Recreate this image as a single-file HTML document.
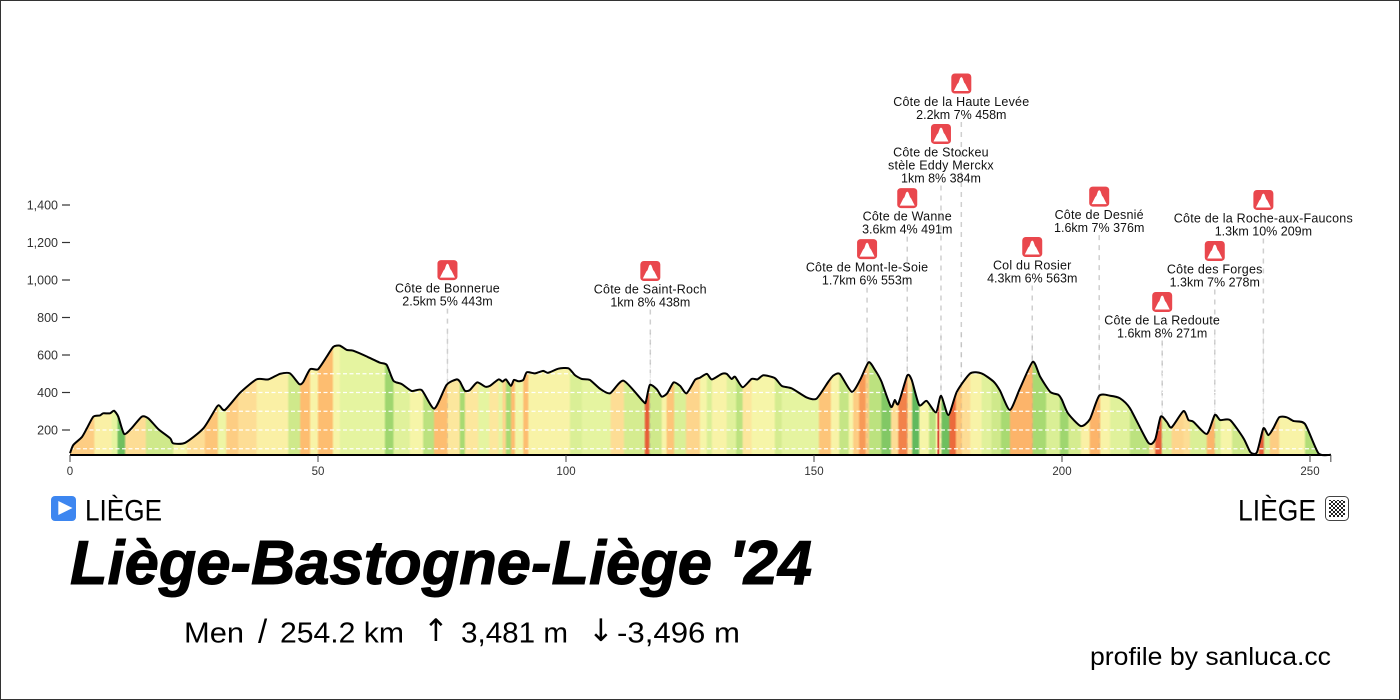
<!DOCTYPE html>
<html lang="fr">
<head>
<meta charset="utf-8">
<title>Liège-Bastogne-Liège '24 profile</title>
<style>
html,body{margin:0;padding:0;background:#fff;}
svg{display:block;}
text{font-family:"Liberation Sans","DejaVu Sans",sans-serif;fill:#000;}
.tick{font-size:12.5px;fill:#333;}
.climb{font-size:12.5px;letter-spacing:.22px;fill:#111;}
.climb-stat{letter-spacing:0;}
</style>
</head>
<body>
<svg id="chart" xmlns="http://www.w3.org/2000/svg" width="1400" height="700" viewBox="0 0 1400 700">
  <defs>
    <linearGradient id="gradeFill" gradientUnits="userSpaceOnUse" x1="70" x2="1330.8" y1="0" y2="0"></linearGradient>
    <pattern id="checks" patternUnits="userSpaceOnUse" x="1329" y="499" width="4" height="4">
      <rect width="2" height="2" fill="#222"/><rect x="2" y="2" width="2" height="2" fill="#222"/>
    </pattern>
  </defs>
  <rect x=".5" y=".5" width="1399" height="699" fill="#fff" stroke="#333" stroke-width="1"/>
  <g id="leaders"></g>
  <path id="area" fill="url(#gradeFill)"></path>
  <g id="grid"></g>
  <g id="innerLeaders"></g>
  <path id="line" fill="none" stroke="#000" stroke-width="2" stroke-linejoin="round"></path>
  <g id="axes"></g>
  <g id="climbs"></g>

  <g>
    <rect x="51" y="496" width="25" height="25" rx="4" fill="#3d86f0"/>
    <polygon points="58.3,501 58.3,515 72.5,508" fill="#fff"/>
    <text x="85" y="520.5" font-size="30" textLength="77" lengthAdjust="spacingAndGlyphs">LIÈGE</text>
  </g>
  <g>
    <text x="1238" y="520.5" font-size="30" textLength="78" lengthAdjust="spacingAndGlyphs">LIÈGE</text>
    <rect x="1325.5" y="496.5" width="23" height="24" rx="4" fill="#fff" stroke="#444" stroke-width="1"/>
    <rect x="1329" y="500" width="16" height="17" fill="url(#checks)"/>
  </g>
  <text x="70" y="584" font-size="62" font-weight="700" font-style="italic" stroke="#000" stroke-width="1" textLength="742" lengthAdjust="spacingAndGlyphs">Liège-Bastogne-Liège '24</text>
  <g font-size="29">
    <text x="184" y="642.5" textLength="60" lengthAdjust="spacingAndGlyphs">Men</text>
    <text x="258" y="642.5" font-size="33">/</text>
    <text x="280" y="642.5" textLength="124" lengthAdjust="spacingAndGlyphs">254.2 km</text>
    <text x="423" y="641" font-size="31" style="font-family:'DejaVu Sans',sans-serif">↑</text>
    <text x="461" y="642.5" textLength="107" lengthAdjust="spacingAndGlyphs">3,481 m</text>
    <text x="588" y="641" font-size="31" style="font-family:'DejaVu Sans',sans-serif">↓</text>
    <text x="617" y="642.5" textLength="123" lengthAdjust="spacingAndGlyphs">-3,496 m</text>
  </g>
  <text x="1090" y="665" font-size="25" textLength="241" lengthAdjust="spacingAndGlyphs">profile by sanluca.cc</text>
</svg>
<script>
var distanceKm = [0,0.67,2.35,3.4,4.7,6.05,6.7,8.06,8.87,9.74,10.9,12.4,14.45,15.8,17.8,20.2,20.8,23.2,26.9,29.6,30.2,31.25,34.3,37.6,40,42.3,44.35,46.2,47,48.4,50,51.75,53.1,54.4,55.8,57.1,60,62.5,63.85,65.2,66.9,68.9,70.9,73.45,75.9,77.95,78.6,79.6,80.6,82.1,83.7,84.7,86.4,87.2,87.9,88.9,89.5,90.4,91.4,92.1,93.75,95.4,96.4,98.45,100.5,101.8,103.2,104.8,106.9,108.9,111.6,115.6,116.1,116.9,118.3,119.3,120.4,121.7,123,124.3,126,127,128.4,129.4,131.4,132.4,133.4,134.1,135.6,137.4,138.6,139.8,142.1,143.5,145.5,148.5,150.5,152.9,153.9,155.2,157.6,159.3,161,162.3,163.6,165.5,166.3,167,168.8,169.7,171.2,172.7,174.6,175.6,177.1,178.8,181.5,183.8,186.2,187.5,189.5,191.5,194.1,195.6,197.6,199.3,200,201.2,203.8,205.6,207.5,209.7,211.7,213.7,217.4,218.8,219.9,221.1,222.1,224.5,225.5,226.5,229.2,230.8,231.9,233.9,236.6,238,239.3,240.6,241.6,242.6,243.8,245.3,246.7,249,251.7,254.2];
var elevationM = [76,120,161,209,271,278,289,289,303,271,179,209,271,262,205,156,129,132,209,324,328,307,399,470,470,499,502,445,455,524,524,591,644,650,627,623,590,559,547,463,445,408,413,314,440,470,458,410,413,454,431,436,470,458,470,435,467,460,467,508,502,515,505,527,529,493,472,467,419,396,463,351,351,440,417,378,396,454,435,396,467,479,499,470,499,499,472,484,428,472,470,492,477,435,422,374,367,458,490,499,404,467,561,520,458,324,360,339,490,467,333,355,294,383,280,404,502,502,458,410,307,420,564,484,404,387,360,289,221,257,383,383,369,316,132,150,271,244,214,301,253,244,179,280,253,253,156,81,81,209,173,209,268,268,248,232,76,68];

var segmentEndKm = [4.9,8.4,9.6,11.1,15.3,20.8,23.6,27.2,29.8,31.5,33.9,37.6,44,46.4,48.4,50,53,54.4,63.5,65.2,68.5,71.2,73.4,76.1,78.6,79.6,82.3,84.5,86.4,87.2,87.9,88.9,89.7,91.4,92.4,100.8,103.2,109,111.7,115.9,116.8,119.3,120.3,121.8,124.2,127,128.4,129.4,132.4,134.3,135.6,137.4,142.1,143.5,151,153.4,155.1,157,157.9,159.1,160.4,161.1,163.6,165.5,167,168.8,169.8,171.2,173.2,174.6,174.9,175.2,175.7,177.3,178.6,179.8,181.5,183.8,185.8,187.7,189.5,191.5,194.1,196.8,199.6,201.3,203.8,205.6,207.7,209.7,213.7,217.6,218.8,220.1,222.1,224.5,225.8,229.2,230.8,232,234.3,237.9,239.7,240.7,241.9,243.8,249,254.2];
var segmentGrade = [4,2,-1,-8,3,-3,1,3,4.5,0,4,3,2,-3,5,1.5,5,1,-1,-5.5,-1.5,1,-4,5,2.5,-5,2.5,-1,2.5,-1,3.5,-5,5,0.5,5,1.5,-2,-1,3,-2.5,11,-3,1.5,4.5,-2,3.5,1,-2,1.5,-1.5,-4,2.5,1,-2.5,-1,4.5,1.5,-3.5,1,4,7,4,-4,-7,3,8.5,3,-9,1,-4,1,15,2,-8,10,4.5,3,1.5,-1.5,-3,-5,5.5,5.5,-5,-2,-5.5,-2.5,2,5.5,1.5,-1.5,-4,3,11,-2,3.5,3,-2,5.5,-2,1,-3,1,11,-2,4,1.5,-4.5];

var xTickValues = [0,50,100,150,200,250];
var yTickValues = [200,400,600,800,1000,1200,1400];
var gridValues = [100,200,300,400,500];

var climbNames = [["Côte de Bonnerue"],["Côte de Saint-Roch"],["Côte de Mont-le-Soie"],["Côte de Wanne"],["Côte de Stockeu","stèle Eddy Merckx"],["Côte de la Haute Levée"],["Col du Rosier"],["Côte de Desnié"],["Côte de La Redoute"],["Côte des Forges"],["Côte de la Roche-aux-Faucons"]];
var climbStats = ["2.5km 5% 443m","1km 8% 438m","1.7km 6% 553m","3.6km 4% 491m","1km 8% 384m","2.2km 7% 458m","4.3km 6% 563m","1.6km 7% 376m","1.6km 8% 271m","1.3km 7% 278m","1.3km 10% 209m"];
var climbKm = [76.1,117,160.7,168.8,175.6,179.7,194,207.5,220.2,230.8,240.6];
var climbLabelElevation = [1053,1048,1165,1437,1779,2048,1176,1445,883,1155,1427];

var NS = "http://www.w3.org/2000/svg";
var raceLengthKm = 254.2;
function x(km){ return 70 + km * 4.96; }
function y(m){ return 430 - (m - 200) * 0.1875; }
var baseY = 455;

function make(tag, attrs, parent){
  var el = document.createElementNS(NS, tag);
  for (var k in attrs) el.setAttribute(k, attrs[k]);
  if (parent) parent.appendChild(el);
  return el;
}

var colorStops = [[-12,[58,166,85]],[-8,[111,191,95]],[-5,[168,218,114]],[-3,[207,233,139]],[-1,[229,244,160]],[1,[246,245,168]],[2,[250,240,165]],[3,[253,221,149]],[5,[253,189,112]],[7,[247,154,88]],[10,[236,106,60]],[14,[216,58,44]],[18,[200,26,40]]];
function gradeColor(g){
  var s = colorStops;
  if (g <= s[0][0]) return "rgb(" + s[0][1].join(",") + ")";
  for (var i = 1; i < s.length; i++) {
    if (g <= s[i][0]) {
      var t = (g - s[i-1][0]) / (s[i][0] - s[i-1][0]);
      var c = s[i-1][1].map(function(v, j){ return Math.round(v + (s[i][1][j] - v) * t); });
      return "rgb(" + c.join(",") + ")";
    }
  }
  return "rgb(" + s[s.length-1][1].join(",") + ")";
}

function curvePath(){
  var pts = distanceKm.map(function(k, i){ return [x(k), y(elevationM[i])]; });
  var d = "M" + pts[0][0].toFixed(1) + "," + pts[0][1].toFixed(1);
  for (var i = 0; i < pts.length - 1; i++) {
    var p0 = pts[Math.max(0, i-1)], p1 = pts[i], p2 = pts[i+1], p3 = pts[Math.min(pts.length-1, i+2)];
    var f = 1/9;
    d += "C" + (p1[0] + (p2[0]-p0[0])*f).toFixed(1) + "," + (p1[1] + (p2[1]-p0[1])*f).toFixed(1) + " " +
         (p2[0] - (p3[0]-p1[0])*f).toFixed(1) + "," + (p2[1] - (p3[1]-p1[1])*f).toFixed(1) + " " +
         p2[0].toFixed(1) + "," + p2[1].toFixed(1);
  }
  return d;
}
var lineD = curvePath();
document.getElementById("line").setAttribute("d", lineD);
document.getElementById("area").setAttribute("d", lineD + "L" + x(distanceKm[distanceKm.length-1]).toFixed(1) + "," + baseY + "L" + x(distanceKm[0]).toFixed(1) + "," + baseY + "Z");

var grad = document.getElementById("gradeFill");
var prevKm = 0;
segmentEndKm.forEach(function(endKm, i){
  var col = gradeColor(segmentGrade[i]);
  var blur = Math.min(0.22, (endKm - prevKm) / 3);
  make("stop", {offset: ((prevKm + blur) / raceLengthKm).toFixed(5), "stop-color": col}, grad);
  make("stop", {offset: ((endKm - blur) / raceLengthKm).toFixed(5), "stop-color": col}, grad);
  prevKm = endKm;
});

var gridG = document.getElementById("grid");
gridValues.forEach(function(v){
  var el = make("line", {x1: x(0), x2: x(raceLengthKm), y1: y(v), y2: y(v), stroke: "#fff", "stroke-width": 1.2, "stroke-dasharray": "4 2.5", "stroke-opacity": 0.95}, gridG);
  
  
});

var axesG = document.getElementById("axes");
var axisLine = make("line", {x1: x(0), x2: x(raceLengthKm), y1: baseY, y2: baseY, stroke: "#000", "stroke-width": 2}, axesG);


var endTick = make("line", {x1: x(raceLengthKm), x2: x(raceLengthKm), y1: baseY, y2: baseY + 7, stroke: "#444", "stroke-width": 1}, axesG);


xTickValues.forEach(function(v){
  var t = make("line", {x1: x(v), x2: x(v), y1: baseY, y2: baseY + 7, stroke: "#444", "stroke-width": 1}, axesG);
  
  
  var l = make("text", {x: x(v), y: 475, "text-anchor": "middle", "class": "tick", style: "font-size:11.5px"}, axesG);
  
  
  l.textContent = v;
});
yTickValues.forEach(function(v){
  var t = make("line", {x1: 62, x2: 70, y1: y(v), y2: y(v), stroke: "#333", "stroke-width": 1.2}, axesG);
  
  
  var l = make("text", {x: 58, y: y(v) + 4.5, "text-anchor": "end", "class": "tick"}, axesG);
  
  
  l.textContent = v.toLocaleString("en-US");
});

var climbsG = document.getElementById("climbs");
var leadersG = document.getElementById("leaders");
var innerLeadersG = document.getElementById("innerLeaders");
climbKm.forEach(function(km, i){
  var cx = x(km), cy = y(climbLabelElevation[i]);
  var lines = climbNames[i].concat([climbStats[i]]);
  var lastBase = cy + 22.5 + (lines.length - 1) * 13;
  var lead = make("line", {x1: cx, x2: cx, y1: lastBase + 3, y2: baseY, stroke: "#cfcfcf", "stroke-width": 1.5, "stroke-dasharray": "5 5"}, leadersG);
  
  
  var inner = make("line", {x1: cx, x2: cx, y1: y(elevationM[0]) - 120, y2: baseY, stroke: "#999", "stroke-width": 1.2, "stroke-dasharray": "5 5", "stroke-opacity": 0.22}, innerLeadersG);
  
  
  var g = make("g", {}, climbsG);
  
  
  var box = make("rect", {x: cx - 10, y: cy - 10, width: 20, height: 20, rx: 3.5, fill: "#e9474d"}, g);
  
  
  make("polygon", {points: [cx-7.5,cy+7.5, cx-4,cy+0.5, cx-2.8,cy-0.8, cx-1.2,cy-5.5, cx,cy-6.5, cx+1.2,cy-5.5, cx+2.8,cy-1, cx+4,cy+0.5, cx+7.5,cy+7.5].join(","), fill: "#fff"}, g);
  lines.forEach(function(txt, j){
    var cls = j === lines.length - 1 ? "climb climb-stat" : "climb";
    var t = make("text", {x: cx, y: cy + 22.5 + j * 13, "text-anchor": "middle", "class": cls}, g);
    
    
    t.textContent = txt;
  });
});
</script>
</body>
</html>
